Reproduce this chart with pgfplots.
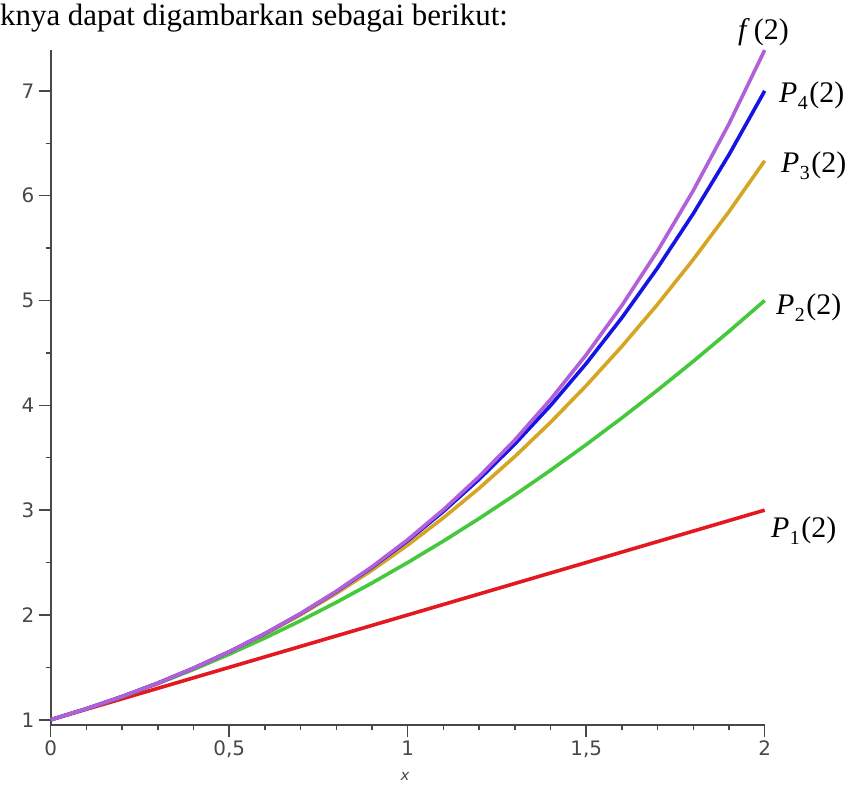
\documentclass[border=0pt]{standalone}
\usepackage{pgfplots}
\pgfplotsset{compat=1.18}
\usepackage{pgfplotstable}
\usepackage{fontspec}
\setmainfont{Liberation Serif}
\newfontfamily\tickfont{DejaVu Sans}

\definecolor{cP1}{RGB}{228,24,32}
\definecolor{cP2}{RGB}{70,200,60}
\definecolor{cP3}{RGB}{214,166,34}
\definecolor{cP4}{RGB}{20,20,228}
\definecolor{cF}{RGB}{178,96,218}
\definecolor{axgray}{RGB}{72,72,72}

% Taylor polynomials of e^x about 0, evaluated on [0,2]
\pgfplotstableread{
x    p1   p2     p3       p4       f
0.0  1.0  1.000  1.00000  1.00000  1.00000
0.1  1.1  1.105  1.10517  1.10517  1.10517
0.2  1.2  1.220  1.22133  1.22140  1.22140
0.3  1.3  1.345  1.34950  1.34984  1.34986
0.4  1.4  1.480  1.49067  1.49173  1.49182
0.5  1.5  1.625  1.64583  1.64844  1.64872
0.6  1.6  1.780  1.81600  1.82140  1.82212
0.7  1.7  1.945  2.00217  2.01217  2.01375
0.8  1.8  2.120  2.20533  2.22240  2.22554
0.9  1.9  2.305  2.42650  2.45384  2.45960
1.0  2.0  2.500  2.66667  2.70833  2.71828
1.1  2.1  2.705  2.92683  2.98784  3.00417
1.2  2.2  2.920  3.20800  3.29440  3.32012
1.3  2.3  3.145  3.51117  3.63017  3.66930
1.4  2.4  3.380  3.83733  3.99740  4.05520
1.5  2.5  3.625  4.18750  4.39844  4.48169
1.6  2.6  3.880  4.56267  4.83573  4.95303
1.7  2.7  4.145  4.96383  5.31184  5.47395
1.8  2.8  4.420  5.39200  5.82940  6.04965
1.9  2.9  4.705  5.84817  6.39117  6.68589
2.0  3.0  5.000  6.33333  7.00000  7.38906
}\taylor

\newcommand{\lbl}[1]{\textit{P}\kern0.5bp\raisebox{-7bp}{\fontsize{20}{20}\selectfont #1}\kern1.5bp(2)}

\begin{document}
\begin{tikzpicture}
  \useasboundingbox (0,0) rectangle (855bp,785bp);
  \begin{axis}[
    at={(50.7bp,60bp)}, anchor=south west,
    scale only axis, width=714bp, height=675bp,
    xmin=0, xmax=2, ymin=0.95, ymax=7.39,
    axis lines=left, axis line style={-, axgray, line width=1.8bp},
    xtick={0,0.5,1,1.5,2}, xticklabels={0,{0,5},1,{1,5},2},
    ytick={1,2,3,4,5,6,7}, yticklabels={1,2,3,4,5,6,7},
    minor xtick={0.1,0.2,0.3,0.4,0.6,0.7,0.8,0.9,1.1,1.2,1.3,1.4,1.6,1.7,1.8,1.9},
    minor ytick={1.5,2.5,3.5,4.5,5.5,6.5},
    tick align=outside, major tick length=12bp, minor tick length=5bp,
    tick style={axgray, line width=1.5bp},
    tick label style={font=\tickfont\fontsize{20}{20}\selectfont, text=axgray},
    yticklabel style={xshift=-1bp},
    every axis plot/.append style={line width=3.6bp, line join=round},
    clip=false,
  ]
    \addplot[cP1] table[x=x, y=p1] {\taylor};
    \addplot[cP2] table[x=x, y=p2] {\taylor};
    \addplot[cP3] table[x=x, y=p3] {\taylor};
    \addplot[cP4] table[x=x, y=p4] {\taylor};
    \addplot[cF]  table[x=x, y=f]  {\taylor};
  \end{axis}
  \node[anchor=base west, inner sep=0pt, font=\fontsize{31}{31}\selectfont] at (0bp,759bp) {knya dapat digambarkan sebagai berikut:};
  \begin{scope}[every node/.style={anchor=base west, inner sep=0pt, font=\fontsize{30}{30}\selectfont}]
    \node at (738bp,745bp) {\textit{f}\kern4bp(2)};
    \node at (779bp,682bp) {\lbl{4}};
    \node at (781bp,612bp) {\lbl{3}};
    \node at (776bp,470bp) {\lbl{2}};
    \node at (771bp,247bp) {\lbl{1}};
  \end{scope}
  \node[anchor=base, inner sep=0pt, text=axgray, font=\tickfont\fontsize{15}{15}\selectfont\itshape] at (405bp,5bp) {x};
\end{tikzpicture}
\end{document}
